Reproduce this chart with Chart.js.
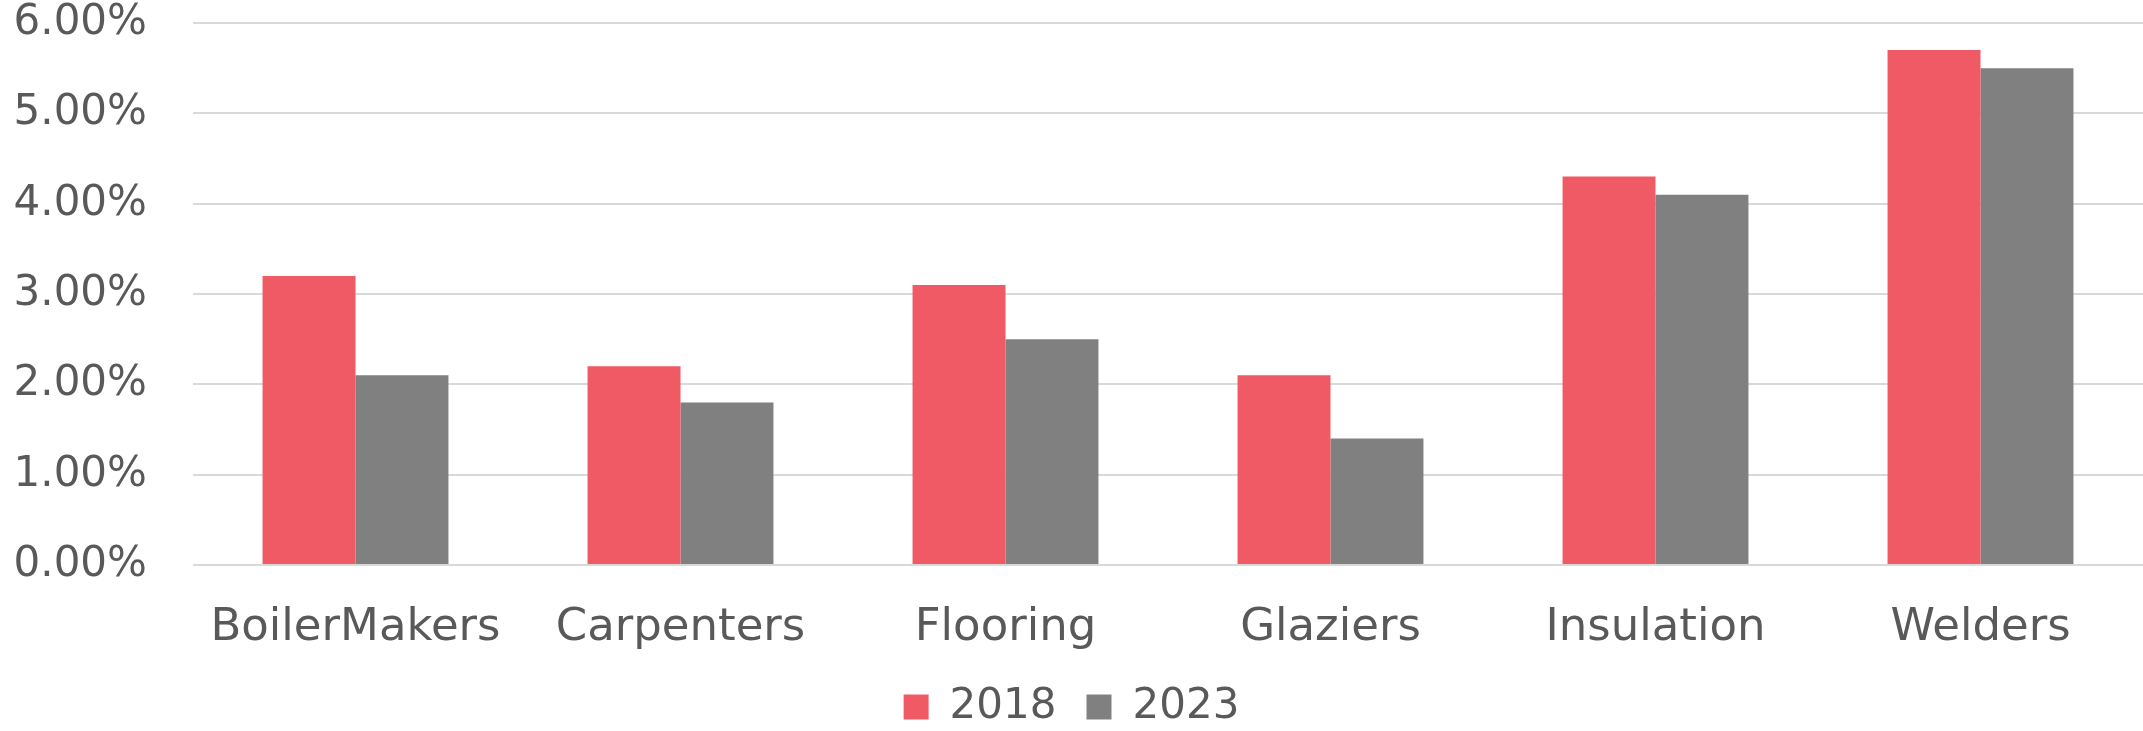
<!DOCTYPE html>
<html>
<head>
<meta charset="utf-8">
<script src="https://cdn.jsdelivr.net/npm/chart.js@4.4.0/dist/chart.umd.min.js"></script>
<style>
  html, body { margin: 0; padding: 0; background: #fff; }
  #wrap { width: 2143px; height: 731px; }
</style>
</head>
<body>
<div id="wrap"><canvas id="tradesChart"></canvas></div>
<script>
// datos
const trades = ['BoilerMakers', 'Carpenters', 'Flooring', 'Glaziers', 'Insulation', 'Welders'];
const years = ['2018', '2023'];
const rate2018 = [3.2, 2.2, 3.1, 2.1, 4.3, 5.7];
const rate2023 = [2.1, 1.8, 2.5, 1.4, 4.1, 5.5];
const yTicks = [0, 1, 2, 3, 4, 5, 6];

const textColor = '#595959';
Chart.defaults.font.family = '"DejaVu Sans", sans-serif';
Chart.defaults.color = textColor;

const ctx = document.getElementById('tradesChart').getContext('2d');
const chart = new Chart(ctx, {
    type: 'bar',
    data: {
        labels: trades,
        datasets: [
            { label: years[0], data: rate2018, backgroundColor: '#F05A64', categoryPercentage: 0.572, barPercentage: 1.0 },
            { label: years[1], data: rate2023, backgroundColor: '#808080', categoryPercentage: 0.572, barPercentage: 1.0 }
        ]
    },
    options: {
        responsive: true,
        maintainAspectRatio: false,
        animation: false,
        layout: { padding: { top: 0, right: 0, left: 0, bottom: -7 } },
        plugins: {
            legend: {
                position: 'bottom',
                labels: { boxWidth: 25, boxHeight: 25, padding: 30, font: { size: 42 }, color: textColor }
            },
            tooltip: { enabled: false }
        },
        scales: {
            x: {
                afterFit: (axis) => { axis.height = 91; },
                grid: { display: false },
                border: { display: false },
                ticks: { font: { size: 45 }, color: textColor, padding: 28, maxRotation: 0 }
            },
            y: {
                min: 0,
                max: 6,
                afterBuildTicks: (axis) => { axis.ticks = yTicks.map(v => ({ value: v })); },
                // ancho fijo del eje y sin el relleno vertical extra que mete ticks.padding
                afterFit: (axis) => { axis.width = 193; axis.paddingTop = 23; axis.paddingBottom = 23; },
                grid: { color: '#D9D9D9', lineWidth: 2, drawTicks: false },
                border: { display: false },
                ticks: {
                    font: { size: 42 },
                    color: textColor,
                    padding: 46,
                    callback: (v) => v.toFixed(2) + '%'
                }
            }
        }
    }
});
</script>
</body>
</html>
